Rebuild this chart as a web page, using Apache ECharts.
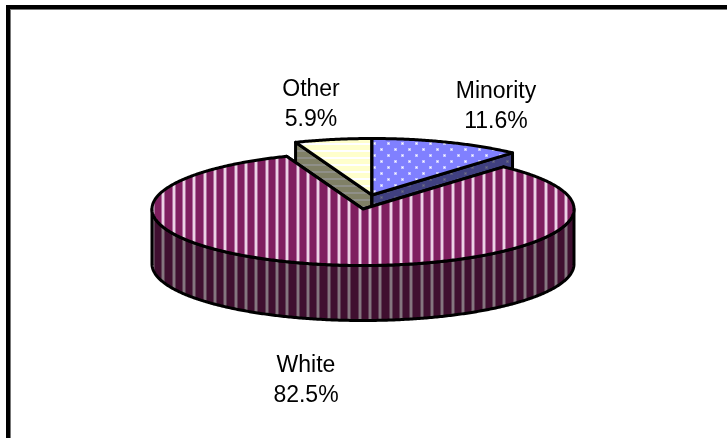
<!DOCTYPE html>
<html><head><meta charset="utf-8">
<style>html,body{margin:0;padding:0;background:#fff}#c{width:727px;height:438px}</style>
<script src="https://cdn.jsdelivr.net/npm/echarts@6/dist/echarts.min.js"></script>
</head><body><div id="c"></div>
<script>
// Clockwise from twelve o'clock
const categories = ['Minority', 'White', 'Other'];
const shares = [11.6, 82.5, 5.9];

// Layout and style, per category
const layout = {
  Minority: { cx: 372, cy: 195, lx: 496, ly: 107 },
  Other:    { cx: 372, cy: 195, lx: 311, ly: 105 },
  White:    { cx: 363, cy: 209, lx: 306, ly: 381 }
};
const RX = 211, RY = 56.5, DEPTH = 55;
const DEG = Math.PI / 180;

function mk(w, h, draw) {
  const c = document.createElement('canvas');
  c.width = w; c.height = h;
  draw(c.getContext('2d'));
  return { image: c, repeat: 'repeat' };
}
function vStripes(base, edge, core) {
  return mk(31, 4, g => {
    g.fillStyle = base; g.fillRect(0, 0, 31, 4);
    [7, 18, 28].forEach(x => {
      g.fillStyle = edge; g.fillRect(x - 1, 0, 1, 4); g.fillRect(x + 2, 0, 1, 4);
      g.fillStyle = core; g.fillRect(x, 0, 2, 4);
    });
  });
}
function hStripes(base, core) {
  return mk(4, 7, g => {
    g.fillStyle = base; g.fillRect(0, 0, 4, 7);
    g.fillStyle = core; g.fillRect(0, 3, 4, 2);
  });
}
function dots(base, soft, core) {
  return mk(14, 12, g => {
    g.fillStyle = base; g.fillRect(0, 0, 14, 12);
    [[3, 5], [10, 11]].forEach(([x, y]) => {
      g.fillStyle = soft;
      g.fillRect(x - 1, (y + 11) % 12, 3, 1);
      g.fillRect(x - 1, y, 3, 1);
      g.fillRect(x - 1, (y + 1) % 12, 3, 1);
      g.fillStyle = core; g.fillRect(x, y, 1, 1);
    });
  });
}
const fills = {
  Minority: { top: dots('#8080ff', '#c4c4ff', '#ffffff'), wall: dots('#404080', '#55557f', '#70708a') },
  Other:    { top: hStripes('#ffffcc', '#ffffff'), wall: hStripes('#808066', '#8f8f88') },
  White:    { top: vStripes('#7f1f5f', '#b06f9f', '#ecd2e4'), wall: vStripes('#400f30', '#5f3f55', '#85757f') }
};

const starts = [];
shares.reduce((sum, v, i) => { starts[i] = sum; return sum + v; }, 0);

function ell(p, a) { return [p.cx + RX * Math.sin(a * DEG), p.cy - RY * Math.cos(a * DEG)]; }
function arc(p, a0, a1) {
  const n = Math.max(2, Math.ceil(Math.abs(a1 - a0) * 2)), out = [];
  for (let i = 0; i <= n; i++) out.push(ell(p, a0 + (a1 - a0) * i / n));
  return out;
}
const down = pts => pts.map(q => [q[0], q[1] + DEPTH]);
const edge = { stroke: '#000', lineWidth: 3, lineJoin: 'round' };

function renderItem(params, api) {
  const name = categories[api.value(2)], p = layout[name], f = fills[name];
  const a0 = api.value(0) * 3.6, a1 = a0 + api.value(1) * 3.6;
  const apex = [p.cx, p.cy], A = ell(p, a0), B = ell(p, a1);
  const children = [];
  const poly = (pts, fill) => children.push({ type: 'polygon', shape: { points: pts }, style: Object.assign({ fill }, edge) });
  poly([apex, A, [A[0], A[1] + DEPTH], [apex[0], apex[1] + DEPTH]], f.wall);
  poly([apex, B, [B[0], B[1] + DEPTH], [apex[0], apex[1] + DEPTH]], f.wall);
  const w0 = Math.max(a0, 90), w1 = Math.min(a1, 270);
  if (w1 > w0) {
    const lo = arc(p, w0, w1);
    poly(lo.concat(down(lo).reverse()), f.wall);
  }
  poly([apex].concat(arc(p, a0, a1)), f.top);
  children.push({
    type: 'text', z2: 50,
    style: {
      x: p.lx, y: p.ly, text: name + '\n' + api.value(1).toFixed(1) + '%',
      align: 'center', verticalAlign: 'middle', fill: '#000',
      font: '23px "Liberation Sans", Arial, sans-serif', lineHeight: 30
    }
  });
  return { type: 'group', children };
}

const chart = echarts.init(document.getElementById('c'), null, { renderer: 'canvas' });
chart.setOption({
  animation: false,
  backgroundColor: '#fff',
  graphic: [
    { type: 'rect', shape: { x: 6, y: 5, width: 4, height: 433 }, style: { fill: '#000' } },
    { type: 'rect', shape: { x: 6, y: 5, width: 721, height: 4 }, style: { fill: '#000' } },
    { type: 'rect', shape: { x: 10, y: 9, width: 1, height: 429 }, style: { fill: '#777' } },
    { type: 'rect', shape: { x: 10, y: 9, width: 717, height: 1 }, style: { fill: '#777' } }
  ],
  series: [{
    type: 'custom',
    coordinateSystem: 'none',
    renderItem,
    silent: true,
    // Back slices are drawn first so the White slice's top face covers their walls
    data: [2, 0, 1].map(i => ({ value: [starts[i], shares[i], i], name: categories[i] }))
  }]
});
</script></body></html>
